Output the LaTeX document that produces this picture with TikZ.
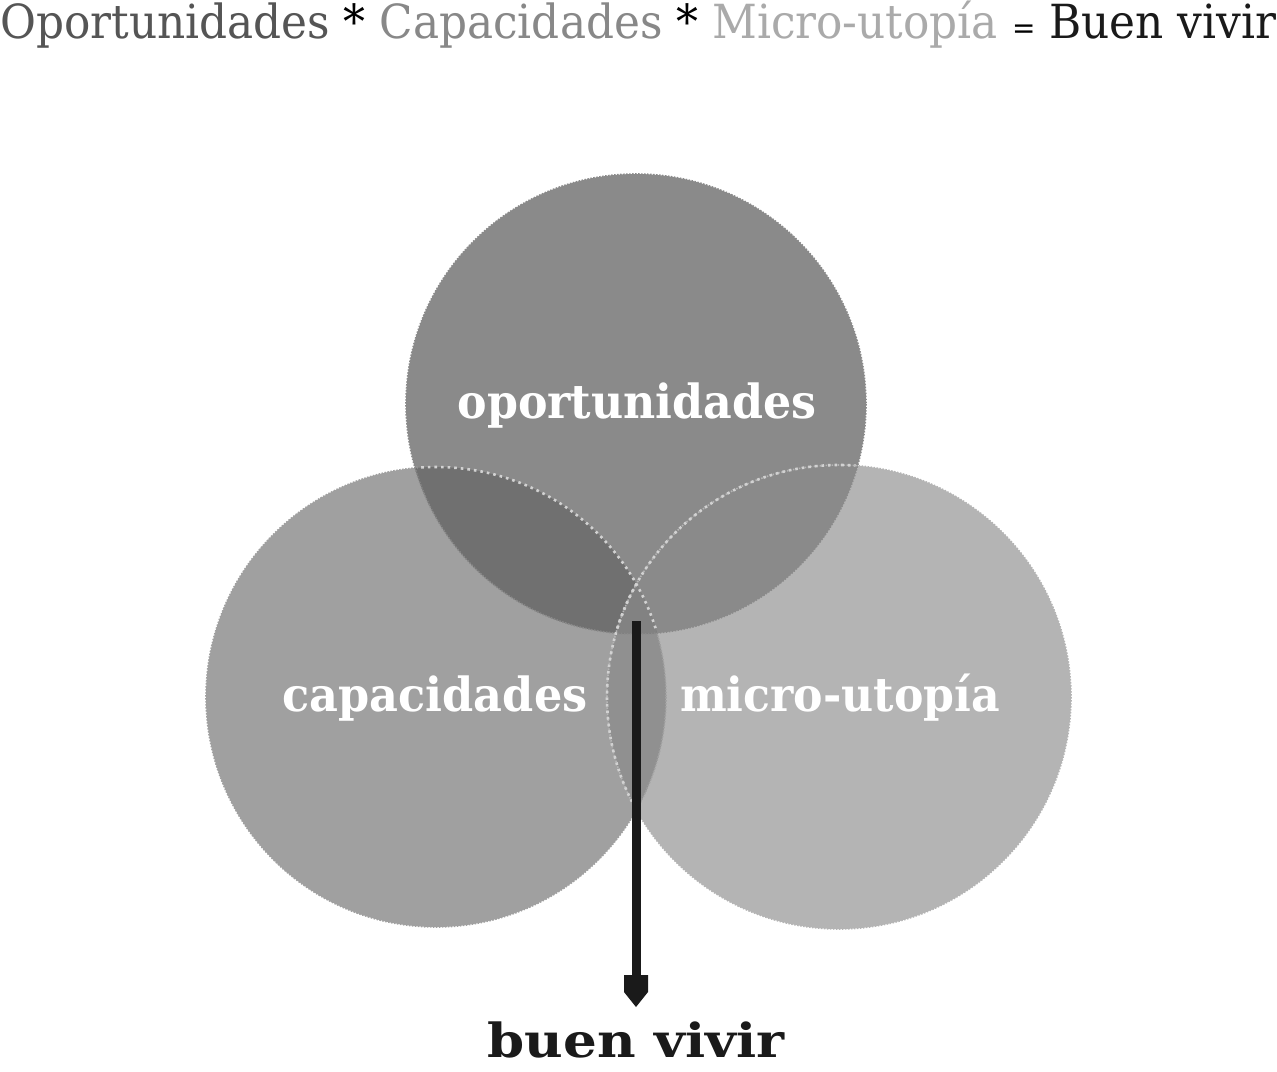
\documentclass[tikz,border=0pt]{standalone}
\usepackage{fontspec}
\usepackage{graphicx}
\setmainfont{DejaVu Serif}
\definecolor{cTop}{HTML}{8A8A8A}
\definecolor{cLeft}{HTML}{A0A0A0}
\definecolor{cRight}{HTML}{B4B4B4}
\definecolor{cLT}{HTML}{707070}
\definecolor{cTriple}{HTML}{828282}
\definecolor{cLR}{HTML}{909090}
\definecolor{cDot}{HTML}{D2D2D2}
\definecolor{cInk}{HTML}{1A1A1A}
\definecolor{tA}{HTML}{555555}
\definecolor{tB}{HTML}{888888}
\definecolor{tC}{HTML}{AAAAAA}
\newcommand{\fitw}[2]{\resizebox{#1}{\height}{#2}}
\begin{document}
\begin{tikzpicture}[x=1pt,y=-1pt,
  ring/.style={circle, inner sep=0pt, minimum size=#1},
  edgejag/.style={dash pattern=on 1.5pt off 1.5pt, line width=1.6pt},
  seethru/.style={dash pattern=on 2.6pt off 4pt, line width=2.6pt, draw=cDot},
  lbl/.style={inner sep=0pt, anchor=base, text=white, font=\bfseries\fontsize{47}{50}\selectfont},
]
\useasboundingbox (0,0) rectangle (1277,1071);
% circles (nodes)
\node[ring=464pt, fill=cRight] (right) at (839,697) {};
\node[ring=460pt, fill=cLeft] (left) at (436,697) {};
% left-right lens
\begin{scope}
  \clip (839,697) circle (232);
  \fill[cLR] (436,697) circle (230);
\end{scope}
\draw[edgejag, draw=cLeft] (436,697) circle (230);
\node[ring=460pt, fill=cTop] (top) at (636,404) {};
% top-left overlap
\begin{scope}
  \clip (436,697) circle (230);
  \fill[cLT] (636,404) circle (230);
  \clip (839,697) circle (232);
  \fill[cTriple] (636,404) circle (230);
\end{scope}
\draw[edgejag, draw=cTop] (636,404) circle (230);
\draw[edgejag, draw=cRight] (839,697) circle (232);
% see-through edges
\begin{scope}
  \clip (636,404) circle (228);
  \draw[seethru] (436,697) circle (230);
  \draw[seethru] (839,697) circle (232);
\end{scope}
\begin{scope}
  \clip (436,697) circle (228);
  \draw[seethru] (839,697) circle (232);
\end{scope}
% labels
\node[lbl] (lTop) at (637,418) {\fitw{359pt}{oportunidades}};
\node[lbl] (lLeft) at (435,711) {\fitw{305pt}{capacidades}};
\node[lbl] (lRight) at (840,711) {\fitw{320pt}{micro-utopía}};
% title
\node[inner sep=0pt, anchor=base west] (title) at (0,38) {\fitw{1276pt}{\fontsize{47}{52}\selectfont\color{tA}Oportunidades \color{black}* \color{tB}Capacidades \color{black}* \color{tC}Micro-utopía \color{black}{\fontsize{30}{32}\selectfont=} \color{cInk}Buen vivir}};
% result
\node[inner sep=0pt, anchor=base, text depth=0pt, text=cInk, font=\bfseries\fontsize{47}{52}\selectfont] (bv) at (636,1057) {\fitw{297pt}{buen vivir}};
% arrow
\coordinate (astart) at (636,621);
\coordinate (ahead) at (636,976);
\draw[cInk, line width=9pt] (astart) -- (ahead);
\fill[cInk] (624,975) -- (648,975) -- (648,992) -- (636,1007) -- (624,992) -- cycle;
\end{tikzpicture}
\end{document}
